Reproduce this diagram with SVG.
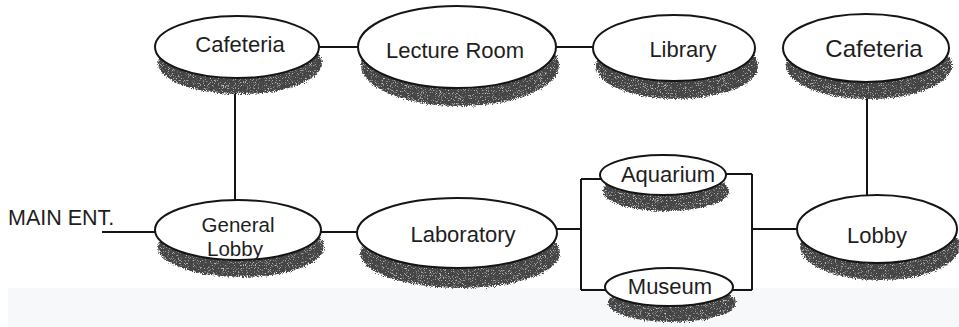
<svg xmlns="http://www.w3.org/2000/svg" width="959" height="327" viewBox="0 0 959 327">
  <style>
    .line { fill: none; stroke: #151515; stroke-width: 2; }
    .disc { fill: #ffffff; stroke: #151515; stroke-width: 2; }
    .shade { fill: #444444; filter: url(#grain); }
    .label { font-family: "Liberation Sans", Arial, Helvetica, sans-serif; font-size: 22px; fill: #1e1e1e; text-anchor: middle; }
    .entry { font-family: "Liberation Sans", Arial, Helvetica, sans-serif; font-size: 21.5px; fill: #1e1e1e; }
  </style>
  <defs>
    <!-- speckled, ragged-edged drop shadow under each room disc -->
    <filter id="grain" x="-10%" y="-30%" width="120%" height="160%">
      <feTurbulence type="fractalNoise" baseFrequency="0.9" numOctaves="2" seed="7" result="noise"/>
      <feDisplacementMap in="SourceGraphic" in2="noise" scale="6" xChannelSelector="R" yChannelSelector="G" result="rough"/>
      <feTurbulence type="fractalNoise" baseFrequency="1.4" numOctaves="1" seed="11" result="fine"/>
      <feColorMatrix in="fine" type="matrix" values="0 0 0 0 0.72  0 0 0 0 0.72  0 0 0 0 0.72  4 0 0 0 -2.3" result="dots"/>
      <feComposite in="dots" in2="rough" operator="in" result="speck"/>
      <feMerge>
        <feMergeNode in="rough"/>
        <feMergeNode in="speck"/>
      </feMerge>
    </filter>
  </defs>

  <rect x="0" y="0" width="959" height="327" fill="#ffffff"/>
  <rect x="8" y="288" width="951" height="39" fill="#f7f8f9"/>

  <text class="entry" x="8" y="225">MAIN ENT.</text>

  <g id="connectors">
    <path class="line" d="M102 232 H158"/>
    <path class="line" d="M316 47 H360"/>
    <path class="line" d="M554 47 H595"/>
    <path class="line" d="M235 90 V201"/>
    <path class="line" d="M867 92 V196"/>
    <path class="line" d="M319 232 H359"/>
    <path class="line" d="M555 229 H581"/>
    <path class="line" d="M581 179 V290"/>
    <path class="line" d="M581 179 H603"/>
    <path class="line" d="M581 290 H608"/>
    <path class="line" d="M724 174 H752"/>
    <path class="line" d="M730 290 H752"/>
    <path class="line" d="M752 174 V290"/>
    <path class="line" d="M752 229 H799"/>
  </g>

  <g id="cafeteria-west">
    <ellipse class="shade" cx="240" cy="63" rx="82" ry="31"/>
    <ellipse class="disc" cx="237" cy="47" rx="82" ry="31"/>
    <text class="label" x="240" y="52">Cafeteria</text>
  </g>

  <g id="lecture-room">
    <ellipse class="shade" cx="460" cy="65" rx="99" ry="41"/>
    <ellipse class="disc" cx="457" cy="47" rx="99" ry="41"/>
    <text class="label" x="455" y="58">Lecture Room</text>
  </g>

  <g id="library">
    <ellipse class="shade" cx="677" cy="66" rx="81" ry="33"/>
    <ellipse class="disc" cx="674" cy="48" rx="81" ry="33"/>
    <text class="label" x="683" y="57">Library</text>
  </g>

  <g id="cafeteria-east">
    <ellipse class="shade" cx="869" cy="65" rx="83" ry="34"/>
    <ellipse class="disc" cx="866" cy="48" rx="83" ry="34"/>
    <text class="label" x="874" y="57" style="font-size:24px">Cafeteria</text>
  </g>

  <g id="general-lobby">
    <ellipse class="shade" cx="241" cy="247" rx="83" ry="30"/>
    <ellipse class="disc" cx="238" cy="230" rx="83" ry="30"/>
    <text class="label" x="238" y="232" style="font-size:20.5px">General</text>
    <text class="label" x="235" y="256" style="font-size:20.5px">Lobby</text>
  </g>

  <g id="laboratory">
    <ellipse class="shade" cx="460" cy="253" rx="100" ry="35"/>
    <ellipse class="disc" cx="457" cy="233" rx="100" ry="35"/>
    <text class="label" x="463" y="242">Laboratory</text>
  </g>

  <g id="aquarium">
    <ellipse class="shade" cx="666" cy="191" rx="63" ry="20"/>
    <ellipse class="disc" cx="663" cy="175" rx="63" ry="20"/>
    <text class="label" x="668" y="182">Aquarium</text>
  </g>

  <g id="museum">
    <ellipse class="shade" cx="672" cy="303" rx="64" ry="19"/>
    <ellipse class="disc" cx="669" cy="287" rx="64" ry="19"/>
    <text class="label" x="670" y="294">Museum</text>
  </g>

  <g id="lobby">
    <ellipse class="shade" cx="880" cy="246" rx="80" ry="34"/>
    <ellipse class="disc" cx="877" cy="229" rx="80" ry="34"/>
    <text class="label" x="877" y="243">Lobby</text>
  </g>
</svg>
